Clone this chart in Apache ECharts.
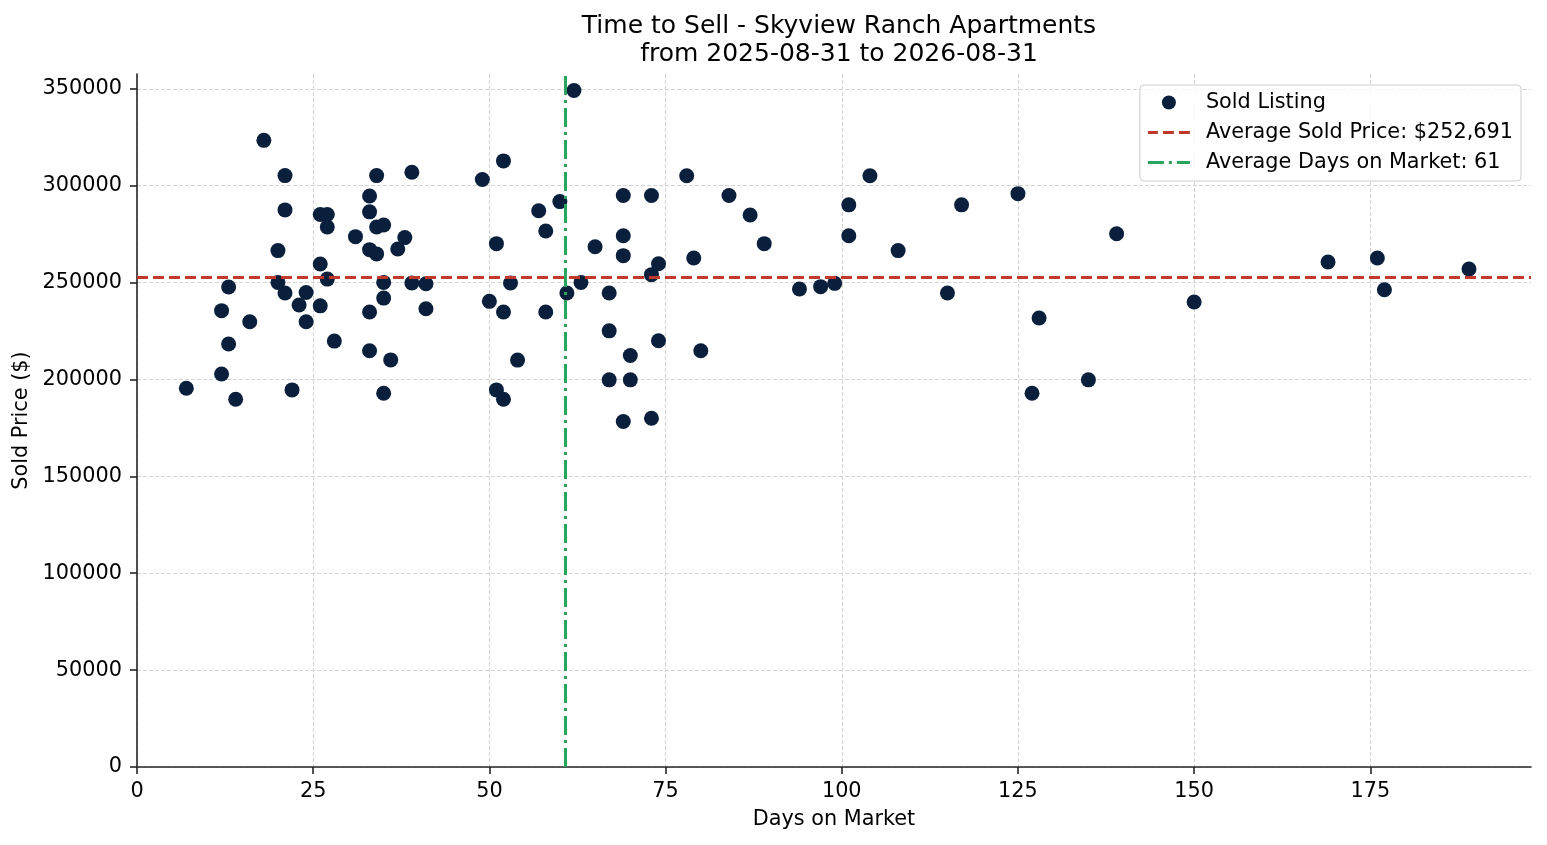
<!DOCTYPE html>
<html>
<head>
<meta charset="utf-8">
<script src="https://cdn.jsdelivr.net/npm/echarts@6/dist/echarts.min.js"></script>
<style>
  html, body { margin: 0; padding: 0; background: #fff; }
  #main { width: 1547px; height: 845px; }
</style>
</head>
<body>
<div id="main"></div>
<script>
// days on market for each sold listing
var days = [
  7, 12, 12, 13, 13, 14, 16, 18, 20, 20, 21, 21, 21, 22, 23, 24, 24, 26, 26, 26,
  27, 27, 27, 28, 31, 33, 33, 33, 33, 33, 34, 34, 35, 34, 35, 35, 35, 36, 37, 38,
  39, 39, 41, 41,
  62, 52, 49, 60, 69, 73, 78, 84, 87, 89, 57, 58, 51, 65, 69, 69, 74, 73, 79, 53,
  63, 61, 67, 50, 52, 58, 67, 74, 80, 70, 54, 67, 70, 51, 52, 69, 73,
  104, 101, 101, 108, 117, 125, 139, 94, 97, 99, 115, 128, 127, 135,
  150, 169, 176, 177, 189
];
// sold price, same order
var prices = [
  195500, 235500, 202800, 247700, 218300, 189800, 229800, 323400, 266500, 250100,
  305200, 287500, 244600, 194600, 238400, 244900, 229800, 259600, 238000, 285100,
  285100, 278700, 251800, 219800, 273700, 294700, 286500, 267000, 234800, 214800,
  305200, 278700, 279700, 264800, 250100, 242000, 192900, 210100, 267300, 273200,
  306900, 249800, 249400, 236500,
  349100, 312800, 303200, 291800, 294900, 294900, 305100, 294900, 284900, 270100,
  287100, 276600, 270100, 268500, 274200, 263900, 259700, 254100, 262700, 249800,
  250100, 244600, 244600, 240300, 234800, 234800, 225100, 220000, 214800, 212400,
  210000, 199800, 199800, 194600, 189800, 178300, 180000,
  305100, 290100, 274200, 266500, 290100, 295900, 275200, 246700, 247900, 249600,
  244600, 231700, 192900, 199800,
  240000, 260600, 262700, 246300, 257000
];

var avgPrice = 252691;
var avgDays = 60.77;

var xTicks = [0, 25, 50, 75, 100, 125, 150, 175];
var yTicks = [0, 50000, 100000, 150000, 200000, 250000, 300000, 350000];

var titleText = 'Time to Sell - Skyview Ranch Apartments\nfrom 2025-08-31 to 2026-08-31';
var legendNames = ['Sold Listing', 'Average Sold Price: $252,691', 'Average Days on Market: 61'];

var points = [];
for (var i = 0; i < days.length; i++) {
  points.push([days[i], prices[i]]);
}

var FONT = 'DejaVu Sans';
var FS = 20.8;
var AXIS_COLOR = '#262626';

var chart = echarts.init(document.getElementById('main'), null, { renderer: 'canvas' });

var option = {
  backgroundColor: '#ffffff',
  animation: false,
  textStyle: { fontFamily: FONT },
  title: {
    text: titleText,
    left: 834,
    textAlign: 'center',
    top: 7,
    textStyle: {
      fontFamily: FONT,
      fontSize: 25,
      fontWeight: 'normal',
      color: '#000',
      lineHeight: 28.5
    }
  },
  legend: {
    orient: 'vertical',
    right: 26,
    top: 85,
    padding: [7, 8, 8, 8],
    itemGap: 9,
    itemWidth: 42,
    itemHeight: 14,
    symbolKeepAspect: true,
    borderColor: '#cccccc',
    borderWidth: 1,
    borderRadius: 4,
    backgroundColor: 'rgba(255,255,255,0.8)',
    textStyle: { fontFamily: FONT, fontSize: FS, color: '#000', padding: [0, 0, 0, 11] },
    data: [
      { name: legendNames[0], icon: 'circle' },
      { name: legendNames[1], icon: 'path://M0,0h10v3h-10z M15,0h11v3h-11z M31,0h11v3h-11z' },
      { name: legendNames[2], icon: 'path://M0,0h16v3h-16z M21,0h3v3h-3z M29,0h13v3h-13z' }
    ]
  },
  grid: {
    left: 137,
    right: 16,
    top: 74,
    bottom: 78,
    containLabel: false,
    outerBoundsMode: 'none'
  },
  xAxis: {
    type: 'value',
    min: 0,
    max: 197.8,
    name: 'Days on Market',
    nameLocation: 'middle',
    nameGap: 42,
    nameTextStyle: { fontFamily: FONT, fontSize: FS, color: '#000' },
    axisLine: { show: true, onZero: false, lineStyle: { color: AXIS_COLOR, width: 1.6 } },
    axisTick: { show: true, length: 7, lineStyle: { color: AXIS_COLOR, width: 1.6 }, customValues: xTicks },
    axisLabel: { fontFamily: FONT, fontSize: FS, color: '#000', margin: 14, customValues: xTicks },
    splitLine: { show: true, lineStyle: { color: '#d4d4d4', width: 1, type: [4, 2] } }
  },
  yAxis: {
    type: 'value',
    min: 0,
    max: 357640,
    name: 'Sold Price ($)',
    nameLocation: 'middle',
    nameGap: 93,
    nameTextStyle: { fontFamily: FONT, fontSize: FS, color: '#000' },
    axisLine: { show: true, onZero: false, lineStyle: { color: AXIS_COLOR, width: 1.6 } },
    axisTick: { show: true, length: 7, lineStyle: { color: AXIS_COLOR, width: 1.6 }, customValues: yTicks },
    axisLabel: {
      fontFamily: FONT, fontSize: FS, color: '#000', margin: 15, customValues: yTicks,
      formatter: function (v) { return String(v); }
    },
    splitLine: { show: true, lineStyle: { color: '#d4d4d4', width: 1, type: [4, 2] } }
  },
  series: [
    {
      name: legendNames[0],
      type: 'scatter',
      symbol: 'circle',
      symbolSize: 15,
      itemStyle: { color: '#0a1f3c', opacity: 1 },
      data: points,
      z: 2
    },
    {
      name: legendNames[1],
      type: 'line',
      data: [],
      itemStyle: { color: '#c0392b' },
      lineStyle: { color: '#c0392b' },
      z: 5,
      markLine: {
        silent: true,
        symbol: ['none', 'none'],
        label: { show: false },
        lineStyle: { color: '#c0392b', width: 3, type: [11, 5] },
        data: [{ yAxis: avgPrice }]
      }
    },
    {
      name: legendNames[2],
      type: 'line',
      data: [],
      itemStyle: { color: '#2aa55e' },
      lineStyle: { color: '#2aa55e' },
      z: 5,
      markLine: {
        silent: true,
        symbol: ['none', 'none'],
        label: { show: false },
        lineStyle: { color: '#2aa55e', width: 3, type: [19, 5, 3, 5] },
        data: [{ xAxis: avgDays }]
      }
    }
  ]
};

chart.setOption(option);
</script>
</body>
</html>
